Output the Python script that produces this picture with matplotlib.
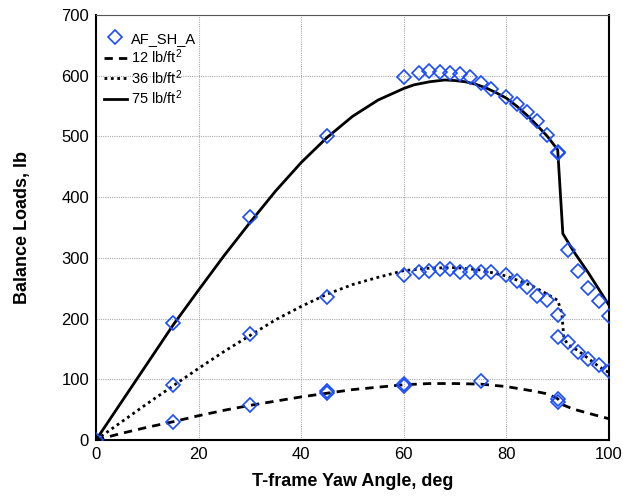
import matplotlib
matplotlib.use('Agg')
import matplotlib.pyplot as plt

plt.rcParams['font.family'] = ['Liberation Sans', 'DejaVu Sans']
plt.rcParams['mathtext.fontset'] = 'custom'
plt.rcParams['mathtext.rm'] = 'Liberation Sans'
plt.rcParams['mathtext.default'] = 'regular'

# measured balance loads (diamonds)
yaw_meas = [0, 15, 30, 45, 60, 63, 65, 67, 69, 71, 73, 75, 77, 80, 82, 84, 86, 88, 90, 90,
            92, 94, 96, 98, 100,
            15, 30, 45, 60, 63, 65, 67, 69, 71, 73, 75, 77, 80, 82, 84, 86, 88, 90, 90,
            92, 94, 96, 98, 100,
            15, 30, 45, 45, 60, 60, 75, 90, 90]
load_meas = [0, 193, 367, 500, 598, 604, 608, 606, 605, 603, 598, 588, 578, 565, 554, 540, 526, 502, 473, 475,
             313, 279, 251, 229, 205,
             91, 174, 235, 272, 276, 279, 281, 281, 277, 277, 277, 276, 271, 262, 252, 238, 230, 206, 169,
             161, 145, 134, 124, 114,
             30, 58, 78, 80, 89, 92, 97, 63, 67]

# predicted curves
yaw_12 = [0, 5, 10, 15, 20, 25, 30, 35, 40, 45, 50, 55, 60, 65, 70, 75, 80, 85, 88, 90, 91, 93, 96, 100]
load_12 = [0, 11, 21, 30, 40, 49, 57, 64, 71, 77, 83, 87, 91, 93, 93, 92, 88, 81, 76, 68, 58, 51, 44, 35]

yaw_36 = [0, 5, 10, 15, 20, 25, 30, 35, 40, 45, 50, 55, 60, 65, 70, 75, 80, 85, 88, 90, 90.8, 91.2,
          92, 94, 96, 98, 100]
load_36 = [0, 30, 60, 89, 118, 146, 172, 198, 220, 240, 256, 268, 279, 283, 284, 280, 270, 254, 240, 230, 209, 168,
           157, 147, 134, 121, 111]

yaw_75 = [0, 5, 10, 15, 20, 25, 30, 35, 40, 45, 50, 55, 60, 62, 65, 68, 70, 72, 74, 76, 78, 80, 82, 84,
          86, 88, 90, 91, 93, 96, 100]
load_75 = [0, 63, 126, 189, 247, 304, 358, 410, 457, 498, 533, 560, 579, 585, 590, 593, 592, 590, 586, 580,
           572, 563, 550, 535, 518, 500, 478, 340, 312, 275, 222]

fig = plt.figure(figsize=(6.23, 4.96), dpi=100)
ax = fig.add_axes([96 / 623, 1 - 440 / 496, 513 / 623, 425 / 496])

ax.plot(yaw_meas, load_meas, linestyle='none', marker='D', markersize=7.5,
        markerfacecolor='none', markeredgecolor='#1a4cff', markeredgewidth=1.2,
        label='AF_SH_A', zorder=3)
ax.plot(yaw_12, load_12, color='black', linestyle=(0, (3, 2.2)), linewidth=2,
        label='12 lb/ft$^2$')
ax.plot(yaw_36, load_36, color='black', linestyle=(0, (1, 1.3)), linewidth=2,
        label='36 lb/ft$^2$')
ax.plot(yaw_75, load_75, color='black', linestyle='-', linewidth=2,
        label='75 lb/ft$^2$')

ax.set_xlim(0, 100)
ax.set_ylim(0, 700)
ax.set_xticks(range(0, 101, 20))
ax.set_yticks(range(0, 701, 100))
ax.tick_params(labelsize=12, length=0, pad=5)
ax.grid(True, color='#aaaaaa', linestyle=(0, (1, 1)), linewidth=0.8)
for side in ['left', 'bottom', 'right']:
    ax.spines[side].set_linewidth(1.5)
ax.spines['top'].set_color('#555555')

ax.set_xlabel('T-frame Yaw Angle, deg', fontsize=13, fontweight='bold', labelpad=8)
ax.set_ylabel('Balance Loads, lb', fontsize=13, fontweight='bold', labelpad=22)

leg = ax.legend(loc='upper left', frameon=False, fontsize=10.5, handlelength=1.6,
                handletextpad=0.3, labelspacing=0.13, borderaxespad=0.3,
                bbox_to_anchor=(-0.005, 0.985))

fig.savefig('out.png', dpi=100)
